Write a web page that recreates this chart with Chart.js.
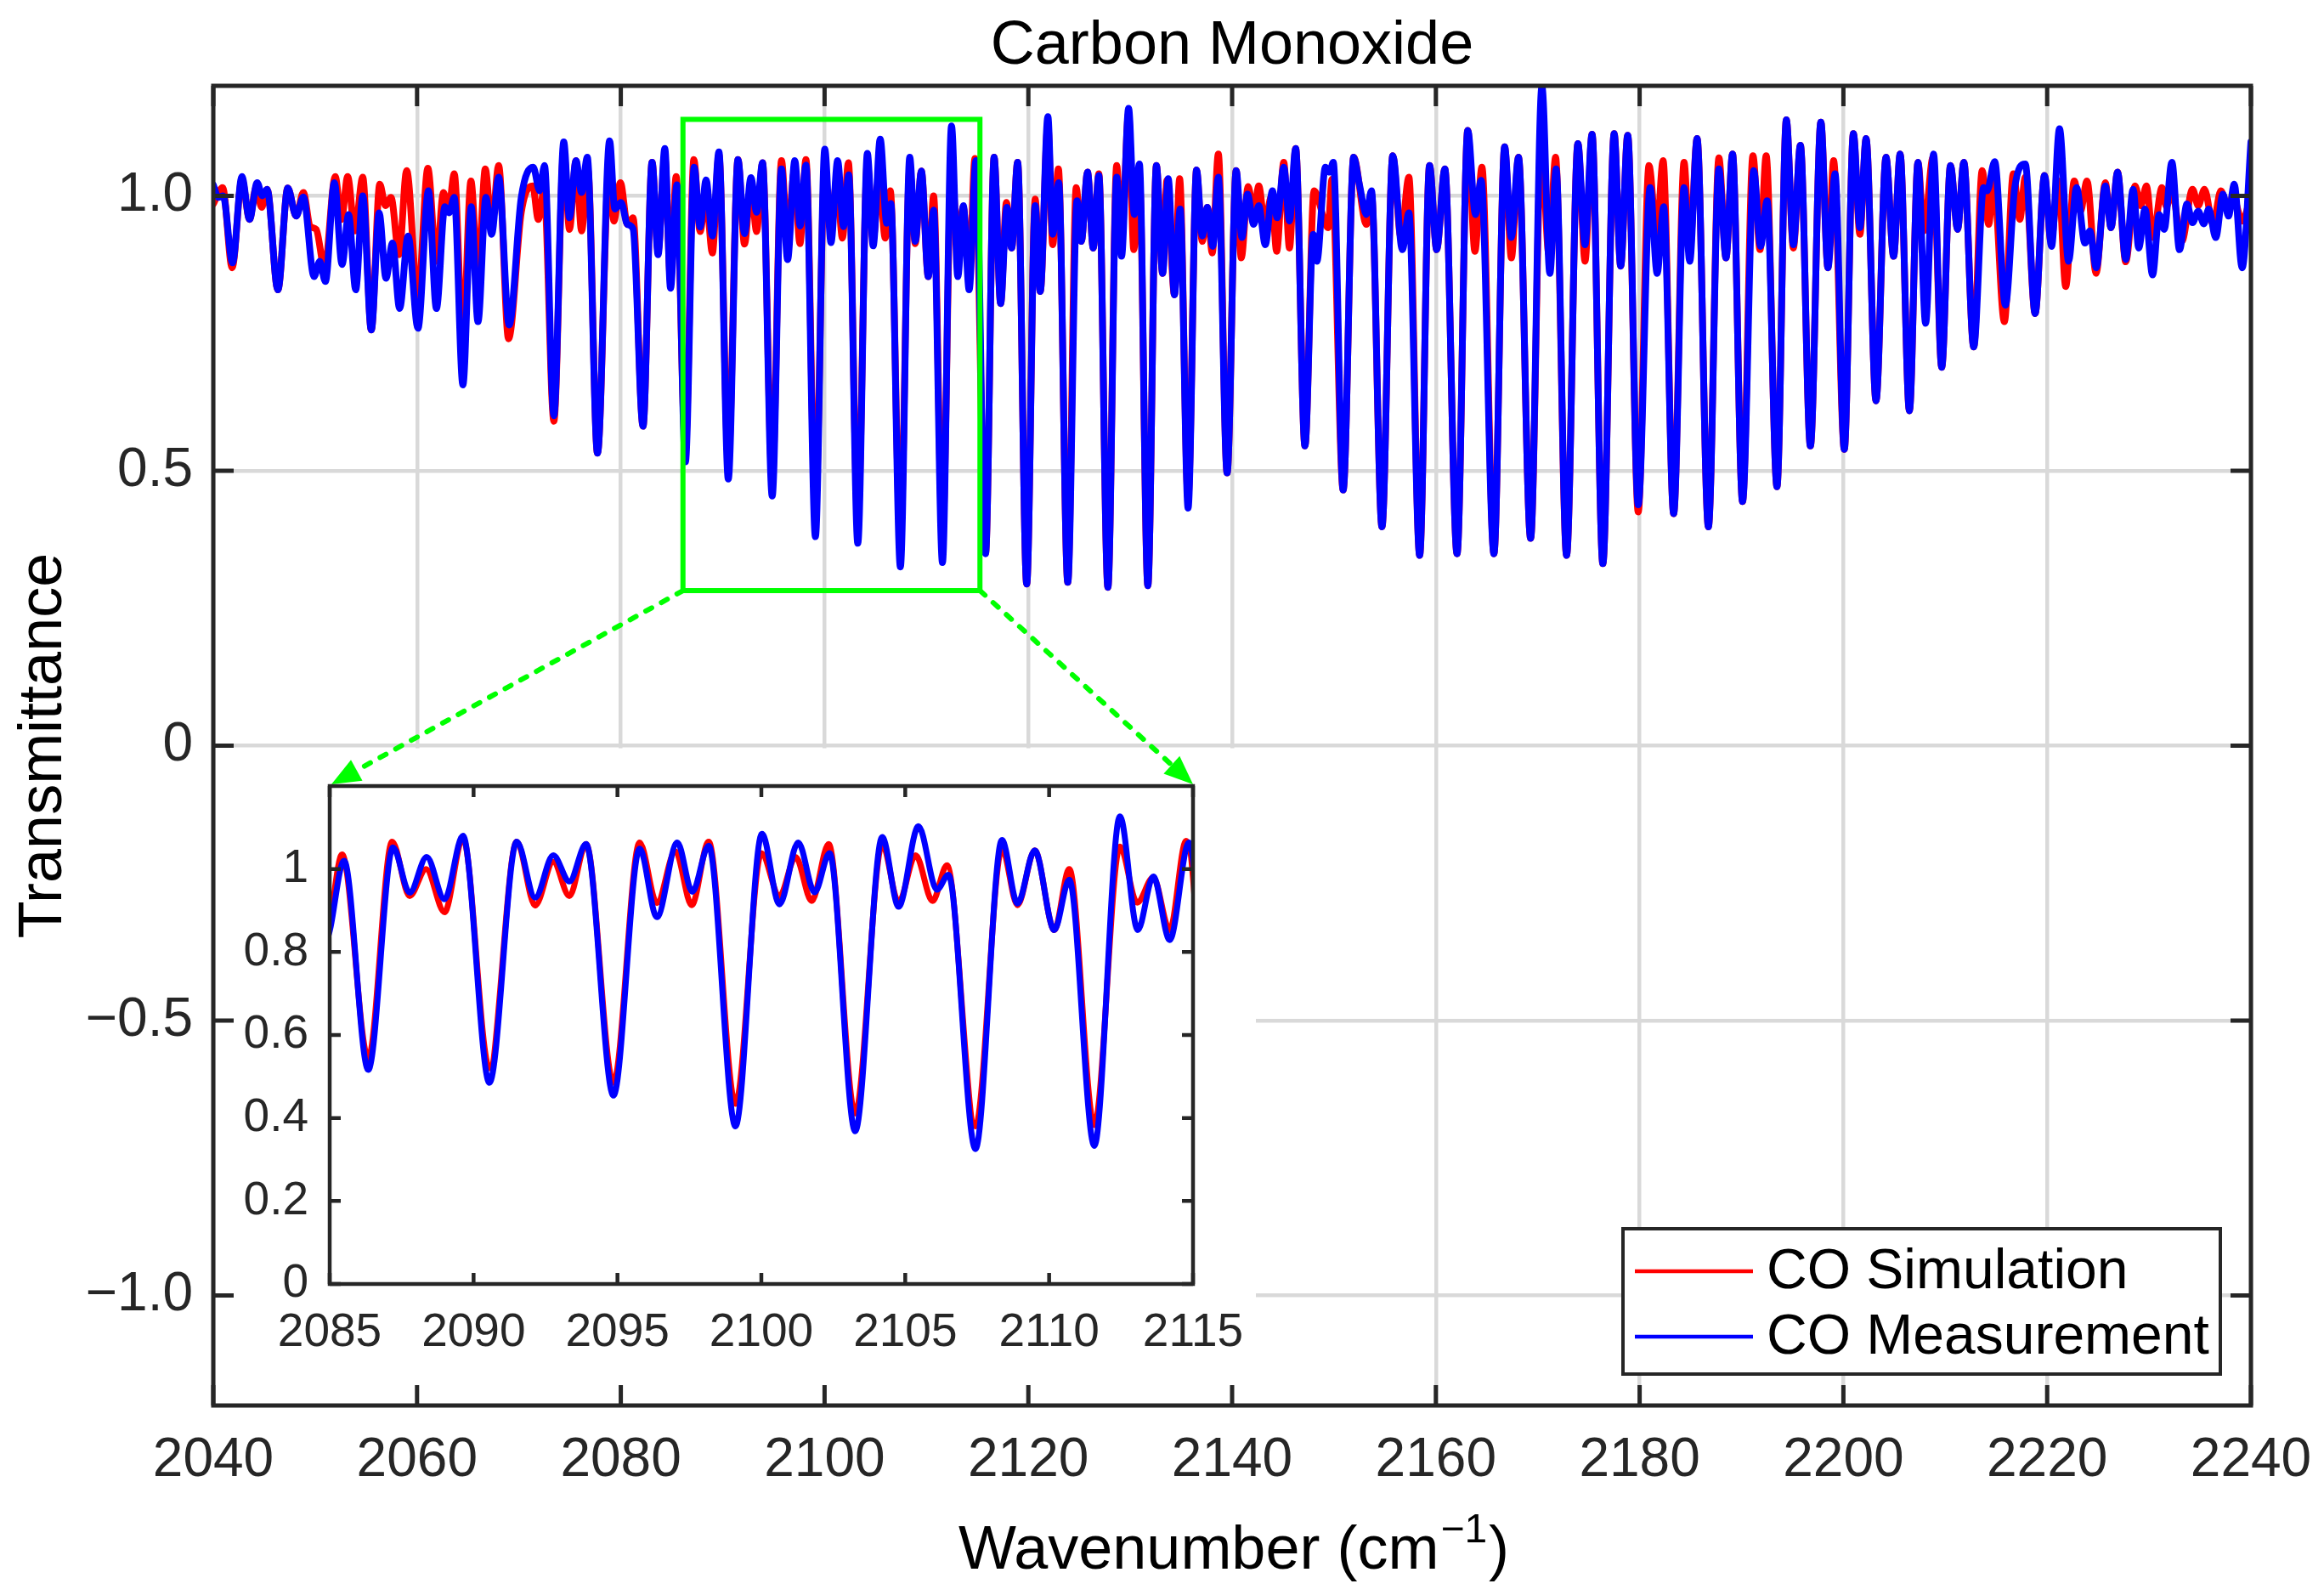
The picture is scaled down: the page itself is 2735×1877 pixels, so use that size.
<!DOCTYPE html>
<html>
<head>
<meta charset="utf-8">
<title>Carbon Monoxide</title>
<script src="https://cdn.jsdelivr.net/npm/chart.js@4.4.1/dist/chart.umd.min.js"></script>
<style>
    html, body { margin: 0; padding: 0; background: #ffffff; }
    #wrap { position: relative; width: 2735px; height: 1877px; background: #ffffff; }
    #mainChart { position: absolute; left: 0; top: 0; width: 2735px; height: 1877px; }
    #insetChart { position: absolute; left: 256px; top: 880px; width: 1222px; height: 770px; }
</style>
</head>
<body>
<div id="wrap">
    <canvas id="mainChart" width="2735" height="1877"></canvas>
    <canvas id="insetChart" width="1222" height="770"></canvas>
</div>
<script>
// ================= DATA =================
let seriesNames = ["CO Simulation", "CO Measurement"];

let xTicks = [2040, 2060, 2080, 2100, 2120, 2140, 2160, 2180, 2200, 2220, 2240];
let yTicks = [-1, -0.5, 0, 0.5, 1];
let insetXTicks = [2085, 2090, 2095, 2100, 2105, 2110, 2115];
let insetYTicks = [0, 0.2, 0.4, 0.6, 0.8, 1];

// zoomed window marked on the main plot (wavenumber, transmittance)
let zoomBoxX = [2086.1, 2115.25];
let zoomBoxY = [0.282, 1.139];

// CO Measurement (blue)
let measWavenumber = [
    2040.0, 2040.5, 2040.97, 2041.89, 2042.81, 2043.56, 2044.31, 2044.81, 2045.28, 2046.34,
    2047.31, 2048.14, 2048.84, 2049.89, 2050.45, 2051.0, 2051.89, 2052.64, 2053.28, 2053.98,
    2054.67, 2055.51, 2056.28, 2056.95, 2057.59, 2058.29, 2059.12, 2060.09, 2061.12, 2061.9,
    2062.73, 2063.15, 2063.65, 2064.5, 2065.32, 2065.98, 2066.76, 2067.32, 2068.01, 2069.04,
    2070.23, 2071.4, 2072.04, 2072.51, 2073.43, 2074.4, 2074.96, 2075.6, 2076.15, 2076.71,
    2077.71, 2078.9, 2079.41, 2080.02, 2080.65, 2081.2, 2082.18, 2083.07, 2083.66, 2084.32,
    2084.88, 2085.5, 2086.34, 2087.2, 2087.78, 2088.37, 2088.99, 2089.63, 2090.55, 2091.5,
    2092.14, 2092.77, 2093.33, 2093.91, 2094.86, 2095.77, 2096.37, 2097.08, 2097.6, 2098.17,
    2099.1, 2100.02, 2100.63, 2101.28, 2101.85, 2102.37, 2103.26, 2104.2, 2104.77, 2105.46,
    2106.1, 2106.5, 2107.44, 2108.36, 2108.9, 2109.5, 2110.18, 2110.7, 2111.57, 2112.46,
    2113.08, 2113.62, 2114.19, 2114.86, 2115.8, 2116.64, 2117.28, 2117.89, 2118.36, 2118.95,
    2119.84, 2120.67, 2121.17, 2121.92, 2122.39, 2122.98, 2123.87, 2124.78, 2125.2, 2125.81,
    2126.37, 2126.92, 2127.81, 2128.67, 2129.15, 2129.84, 2130.4, 2130.9, 2131.73, 2132.57,
    2133.18, 2133.73, 2134.34, 2134.9, 2135.68, 2136.51, 2137.07, 2137.57, 2138.1, 2138.65,
    2139.51, 2140.4, 2140.96, 2141.51, 2142.12, 2142.62, 2143.26, 2143.96, 2144.43, 2145.07,
    2145.63, 2146.24, 2147.15, 2147.96, 2148.32, 2149.16, 2149.57, 2149.93, 2150.9, 2151.93,
    2152.5, 2153.18, 2153.68, 2154.71, 2155.77, 2156.71, 2157.35, 2158.41, 2159.38, 2160.08,
    2160.88, 2162.08, 2163.13, 2163.88, 2164.44, 2165.7, 2166.75, 2167.41, 2168.11, 2169.3,
    2170.41, 2171.19, 2171.8, 2172.83, 2173.94, 2174.64, 2175.33, 2176.39, 2177.5, 2178.14,
    2178.83, 2179.86, 2181.03, 2181.72, 2182.36, 2183.34, 2184.36, 2184.92, 2185.64, 2186.75,
    2187.78, 2188.48, 2189.12, 2190.1, 2191.2, 2191.87, 2192.51, 2193.48, 2194.4, 2195.09,
    2195.78, 2196.76, 2197.79, 2198.48, 2199.18, 2200.09, 2200.98, 2201.62, 2202.23, 2203.2,
    2204.18, 2204.93, 2205.57, 2206.48, 2207.32, 2208.07, 2208.85, 2209.65, 2210.51, 2211.21,
    2211.82, 2212.79, 2213.76, 2214.1, 2214.85, 2215.9, 2216.82, 2217.85, 2218.82, 2219.74,
    2220.43, 2221.21, 2222.1, 2222.88, 2223.71, 2224.19, 2224.82, 2225.71, 2226.27, 2226.91,
    2227.71, 2228.44, 2228.99, 2229.6, 2230.35, 2230.99, 2231.49, 2232.24, 2232.99, 2233.72,
    2234.27, 2234.83, 2235.38, 2235.86, 2236.55, 2237.25, 2237.8, 2238.36, 2239.14, 2240.0
];
let measTransmittance = [
    1.02, 0.997, 1.0, 0.878, 1.035, 0.957, 1.024, 1.0, 1.012, 0.829,
    1.014, 0.963, 0.998, 0.853, 0.881, 0.844, 1.024, 0.875, 0.966, 0.829,
    1.0, 0.756, 0.969, 0.85, 0.914, 0.795, 0.927, 0.759, 1.009, 0.795,
    0.98, 0.969, 0.997, 0.656, 0.98, 0.771, 0.997, 0.93, 1.034, 0.765,
    0.997, 1.052, 1.009, 1.055, 0.6, 1.098, 0.96, 1.064, 1.006, 1.07,
    0.532, 1.1, 0.976, 0.988, 0.948, 0.94, 0.581, 1.061, 0.893, 1.086,
    0.832, 1.02, 0.516, 1.052, 0.943, 1.029, 0.927, 1.08, 0.485, 1.066,
    0.931, 1.033, 0.97, 1.06, 0.454, 1.049, 0.884, 1.064, 0.945, 1.056,
    0.38, 1.085, 0.915, 1.064, 0.944, 1.038, 0.368, 1.077, 0.909, 1.103,
    0.95, 0.986, 0.325, 1.07, 0.917, 1.045, 0.853, 0.974, 0.333, 1.127,
    0.853, 0.982, 0.829, 1.064, 0.349, 1.07, 0.804, 0.979, 0.905, 1.061,
    0.294, 0.982, 0.826, 1.144, 0.93, 1.024, 0.297, 0.991, 0.917, 1.043,
    0.905, 1.037, 0.288, 1.034, 0.89, 1.159, 0.966, 1.058, 0.291, 1.055,
    0.859, 1.031, 0.82, 0.976, 0.432, 1.047, 0.927, 0.979, 0.908, 1.034,
    0.496, 1.046, 0.924, 1.003, 0.948, 0.982, 0.911, 1.009, 0.96, 1.052,
    0.954, 1.086, 0.545, 0.93, 0.881, 1.052, 1.043, 1.061, 0.465, 1.07,
    1.02, 0.966, 1.009, 0.398, 1.073, 0.902, 0.969, 0.346, 1.055, 0.902,
    1.049, 0.349, 1.119, 0.966, 1.028, 0.349, 1.089, 0.924, 1.07, 0.377,
    1.199, 0.859, 1.049, 0.346, 1.095, 0.911, 1.112, 0.331, 1.113, 0.872,
    1.11, 0.438, 1.015, 0.859, 0.98, 0.422, 1.015, 0.881, 1.104, 0.398,
    1.049, 0.887, 1.076, 0.444, 1.046, 0.908, 0.991, 0.471, 1.138, 0.911,
    1.092, 0.545, 1.134, 0.869, 1.04, 0.539, 1.113, 0.942, 1.104, 0.627,
    1.07, 0.89, 1.076, 0.609, 1.061, 0.768, 1.076, 0.688, 1.055, 0.939,
    1.061, 0.725, 1.015, 1.009, 1.062, 0.801, 1.015, 1.058, 0.786, 1.037,
    0.908, 1.122, 0.881, 1.015, 0.914, 0.936, 0.869, 1.018, 0.942, 1.043,
    0.884, 1.012, 0.905, 0.976, 0.856, 0.966, 0.939, 1.061, 0.902, 0.985,
    0.951, 0.972, 0.949, 0.976, 0.924, 1.003, 0.963, 1.021, 0.869, 1.098
];

// CO Simulation (red)
let simWavenumber = [
    2040.0, 2040.92, 2041.85, 2042.81, 2043.56, 2044.2, 2044.75, 2045.28, 2046.34, 2047.31,
    2048.14, 2048.84, 2049.5, 2050.1, 2050.92, 2051.97, 2052.58, 2053.19, 2053.9, 2054.67,
    2055.51, 2056.34, 2056.9, 2057.45, 2058.23, 2058.98, 2060.09, 2061.06, 2061.9, 2062.59,
    2063.1, 2063.65, 2064.5, 2065.29, 2065.98, 2066.7, 2067.32, 2068.01, 2068.98, 2070.23,
    2071.35, 2071.9, 2072.46, 2073.43, 2074.4, 2074.96, 2075.6, 2076.15, 2076.77, 2077.71,
    2078.85, 2079.32, 2079.96, 2080.65, 2081.2, 2082.18, 2083.07, 2083.66, 2084.32, 2084.88,
    2085.43, 2086.34, 2087.17, 2087.78, 2088.35, 2088.99, 2089.63, 2090.55, 2091.5, 2092.14,
    2092.77, 2093.33, 2093.91, 2094.86, 2095.77, 2096.37, 2097.01, 2097.58, 2098.17, 2099.1,
    2100.0, 2100.63, 2101.19, 2101.75, 2102.34, 2103.26, 2104.2, 2104.77, 2105.36, 2105.95,
    2106.45, 2107.44, 2108.36, 2108.9, 2109.5, 2110.18, 2110.7, 2111.57, 2112.46, 2113.06,
    2113.62, 2114.19, 2114.76, 2115.8, 2116.64, 2117.28, 2117.85, 2118.36, 2118.95, 2119.84,
    2120.67, 2121.17, 2121.92, 2122.39, 2122.95, 2123.87, 2124.7, 2125.2, 2125.81, 2126.37,
    2126.92, 2127.81, 2128.67, 2129.15, 2129.84, 2130.35, 2130.9, 2131.73, 2132.57, 2133.18,
    2133.6, 2134.34, 2134.85, 2135.68, 2136.51, 2137.07, 2137.57, 2138.05, 2138.65, 2139.51,
    2140.4, 2140.9, 2141.57, 2142.12, 2142.62, 2143.2, 2143.88, 2144.37, 2145.07, 2145.63,
    2146.24, 2147.15, 2148.04, 2149.43, 2149.8, 2150.9, 2151.93, 2153.18, 2153.68, 2154.71,
    2155.77, 2156.57, 2157.35, 2158.41, 2159.38, 2160.08, 2160.88, 2162.08, 2163.13, 2163.83,
    2164.52, 2165.7, 2166.75, 2167.41, 2168.11, 2169.3, 2170.35, 2171.1, 2171.75, 2172.83,
    2173.94, 2174.64, 2175.33, 2176.39, 2177.5, 2178.14, 2178.83, 2179.86, 2180.92, 2181.67,
    2182.3, 2183.34, 2184.36, 2184.92, 2185.64, 2186.75, 2187.78, 2188.48, 2189.12, 2190.1,
    2191.12, 2191.82, 2192.42, 2193.48, 2194.4, 2195.09, 2195.78, 2196.76, 2197.79, 2198.48,
    2199.04, 2200.09, 2200.98, 2201.62, 2202.23, 2203.2, 2204.18, 2204.93, 2205.57, 2206.48,
    2207.32, 2207.9, 2208.8, 2209.65, 2210.51, 2211.21, 2211.82, 2212.79, 2213.62, 2214.26,
    2214.74, 2215.8, 2216.68, 2217.32, 2217.85, 2218.82, 2219.74, 2220.37, 2221.13, 2221.82,
    2222.66, 2223.27, 2223.91, 2224.8, 2225.71, 2226.27, 2226.91, 2227.71, 2228.63, 2229.19,
    2229.74, 2230.38, 2231.27, 2231.7, 2232.24, 2233.21, 2234.27, 2234.83, 2235.44, 2236.28,
    2237.05, 2237.8, 2238.22, 2239.14, 2240.0
];
let simTransmittance = [
    0.985, 1.015, 0.869, 1.03, 0.957, 1.015, 0.979, 1.012, 0.829, 1.014,
    0.963, 1.006, 0.945, 0.939, 0.869, 1.035, 0.957, 1.035, 0.936, 1.034,
    0.756, 1.021, 0.982, 0.997, 0.893, 1.046, 0.814, 1.05, 0.881, 1.006,
    0.975, 1.04, 0.74, 1.027, 0.856, 1.049, 0.942, 1.055, 0.74, 0.97,
    1.018, 0.957, 1.009, 0.59, 1.083, 0.939, 1.064, 0.936, 1.046, 0.532,
    1.049, 0.954, 1.024, 0.948, 0.96, 0.581, 1.061, 0.9, 1.07, 0.845,
    1.035, 0.544, 1.066, 0.935, 1.0, 0.896, 1.075, 0.52, 1.066, 0.912,
    1.017, 0.935, 1.06, 0.485, 1.064, 0.918, 1.043, 0.913, 1.066, 0.434,
    1.038, 0.935, 1.029, 0.923, 1.06, 0.411, 1.06, 0.92, 1.033, 0.923,
    1.009, 0.38, 1.049, 0.913, 1.045, 0.853, 1.0, 0.383, 1.054, 0.919,
    0.98, 0.853, 1.068, 0.35, 1.07, 0.804, 0.988, 0.905, 1.061, 0.294,
    0.994, 0.826, 1.13, 0.911, 1.049, 0.297, 1.015, 0.917, 1.043, 0.905,
    1.04, 0.288, 1.055, 0.917, 1.15, 0.902, 1.034, 0.291, 1.055, 0.859,
    1.028, 0.82, 1.031, 0.45, 1.047, 0.917, 0.979, 0.896, 1.076, 0.496,
    1.046, 0.887, 1.017, 0.97, 1.018, 0.95, 1.0, 0.899, 1.061, 0.905,
    1.086, 0.545, 1.009, 0.942, 1.03, 0.465, 1.07, 0.948, 1.003, 0.398,
    1.073, 0.924, 1.034, 0.346, 1.055, 0.902, 1.049, 0.349, 1.119, 0.899,
    1.052, 0.349, 1.089, 0.887, 1.07, 0.377, 1.09, 0.893, 1.07, 0.346,
    1.095, 0.881, 1.112, 0.331, 1.113, 0.872, 1.11, 0.425, 1.055, 0.93,
    1.064, 0.422, 1.061, 0.9, 1.104, 0.398, 1.069, 0.887, 1.076, 0.444,
    1.073, 0.902, 1.073, 0.471, 1.138, 0.905, 1.092, 0.545, 1.134, 0.869,
    1.064, 0.539, 1.113, 0.93, 1.104, 0.627, 1.07, 0.89, 1.076, 0.609,
    1.061, 0.936, 1.07, 0.688, 1.055, 0.939, 1.061, 0.725, 1.046, 0.948,
    1.027, 0.771, 1.04, 0.957, 1.034, 0.786, 1.037, 0.917, 1.027, 0.835,
    1.027, 0.972, 1.027, 0.859, 1.024, 0.942, 1.043, 0.88, 1.018, 0.982,
    1.018, 0.924, 1.015, 0.98, 1.009, 0.917, 1.012, 0.982, 1.012, 0.948,
    1.009, 0.975, 1.0, 0.954, 1.0
];

// ================= LAYOUT =================
let FONT = '"Liberation Sans", Arial, Helvetica, sans-serif';
let AXIS_COLOR = "#262626";
let GRID_COLOR = "#d9d9d9";

let INSET_LEFT = 256;
let INSET_TOP = 880;
let INSET_W = 1222;
let INSET_H = 770;
let INSET_PAD_TOP = 45;
let INSET_PAD_RIGHT = 74;
let INSET_AXIS_W = 132;
let INSET_AXIS_H = 139;

Chart.defaults.font.family = FONT;

// ================= HELPERS =================
function makeDataset(label, xs, ys, color, width, order){

    return {
        label: label,
        data: xs.map((x, i) => ({ x: x, y: ys[i] })),
        borderColor: color,
        backgroundColor: color,
        borderWidth: width,
        pointRadius: 0,
        fill: false,
        cubicInterpolationMode: "monotone",
        borderJoinStyle: "round",
        borderCapStyle: "round",
        order: order
    };

}

function tickList(values){

    return function(scale){
        scale.ticks = values.map(v => ({ value: v }));
    };

}

// fixed axis box; label overhang is handled by the layout padding instead
function fixBox(size){

    return function(scale){
        if(scale.isHorizontal()){
            scale.height = size;
        } else {
            scale.width = size;
        }
        scale.paddingLeft = 0;
        scale.paddingRight = 0;
        scale.paddingTop = 0;
        scale.paddingBottom = 0;
    };

}

function mainYLabel(v){

    if(v === 0) return "0";

    return (v < 0 ? "\u2212" : "") + Math.abs(v).toFixed(1);

}

function drawFrame(chart, tickLen, lineWidth){

    let ctx = chart.ctx;
    let a = chart.chartArea;
    let xs = chart.scales.x;
    let ys = chart.scales.y;

    ctx.save();
    ctx.strokeStyle = AXIS_COLOR;
    ctx.lineWidth = lineWidth;
    ctx.lineCap = "butt";

    ctx.beginPath();

    xs.ticks.forEach(t => {
        let px = xs.getPixelForValue(t.value);
        ctx.moveTo(px, a.bottom);
        ctx.lineTo(px, a.bottom - tickLen);
        ctx.moveTo(px, a.top);
        ctx.lineTo(px, a.top + tickLen);
    });

    ys.ticks.forEach(t => {
        let py = ys.getPixelForValue(t.value);
        ctx.moveTo(a.left, py);
        ctx.lineTo(a.left + tickLen, py);
        ctx.moveTo(a.right, py);
        ctx.lineTo(a.right - tickLen, py);
    });

    ctx.stroke();

    ctx.lineJoin = "miter";
    ctx.strokeRect(a.left, a.top, a.right - a.left, a.bottom - a.top);

    ctx.restore();

}

function drawArrow(ctx, x1, y1, x2, y2){

    let ang = Math.atan2(y2 - y1, x2 - x1);
    let headLen = 34;
    let headHalf = 14;
    let bx = x2 - headLen * Math.cos(ang);
    let by = y2 - headLen * Math.sin(ang);

    ctx.setLineDash([8, 13]);
    ctx.lineCap = "round";
    ctx.beginPath();
    ctx.moveTo(x1, y1);
    ctx.lineTo(bx, by);
    ctx.stroke();
    ctx.setLineDash([]);

    ctx.beginPath();
    ctx.moveTo(x2, y2);
    ctx.lineTo(bx + headHalf * Math.sin(ang), by - headHalf * Math.cos(ang));
    ctx.lineTo(bx - headHalf * Math.sin(ang), by + headHalf * Math.cos(ang));
    ctx.closePath();
    ctx.fill();

}

/* ================= MAIN CHART EXTRAS ================= */
let mainExtras = {

    id: "mainExtras",

    afterDatasetsDraw(chart){

        let ctx = chart.ctx;
        let a = chart.chartArea;
        let xs = chart.scales.x;
        let ys = chart.scales.y;

        ctx.save();

        // white panel behind the inset
        let panelTop = ys.getPixelForValue(0) + 3;
        ctx.fillStyle = "#ffffff";
        ctx.fillRect(a.left + 3, panelTop, INSET_LEFT + INSET_W - a.left - 3, a.bottom - 3 - panelTop);

        // green box around the zoomed window
        let bx1 = xs.getPixelForValue(zoomBoxX[0]);
        let bx2 = xs.getPixelForValue(zoomBoxX[1]);
        let by1 = ys.getPixelForValue(zoomBoxY[1]);
        let by2 = ys.getPixelForValue(zoomBoxY[0]);

        ctx.strokeStyle = "#00ff00";
        ctx.fillStyle = "#00ff00";
        ctx.lineWidth = 6;
        ctx.lineJoin = "miter";
        ctx.strokeRect(bx1, by1, bx2 - bx1, by2 - by1);

        // dotted arrows to the inset corners
        let insetAreaLeft = INSET_LEFT + INSET_AXIS_W;
        let insetAreaRight = INSET_LEFT + INSET_W - INSET_PAD_RIGHT;
        let insetAreaTop = INSET_TOP + INSET_PAD_TOP;

        drawArrow(ctx, bx1, by2, insetAreaLeft + 2, insetAreaTop - 2);
        drawArrow(ctx, bx2, by2, insetAreaRight, insetAreaTop - 2);

        ctx.restore();

    },

    afterDraw(chart){

        let ctx = chart.ctx;
        let a = chart.chartArea;

        drawFrame(chart, 24, 5);

        /* ---------- legend ---------- */
        let lw = 703;
        let lh = 171;
        let lx = a.right - 36 - lw;
        let ly = a.bottom - 37 - lh;

        ctx.save();
        ctx.fillStyle = "#ffffff";
        ctx.fillRect(lx, ly, lw, lh);
        ctx.strokeStyle = AXIS_COLOR;
        ctx.lineWidth = 4;
        ctx.strokeRect(lx, ly, lw, lh);

        ctx.font = "66px " + FONT;
        ctx.textBaseline = "middle";
        ctx.textAlign = "left";

        chart.data.datasets.forEach((ds, i) => {
            let rowY = ly + 50 + i * 77;
            ctx.strokeStyle = ds.borderColor;
            ctx.lineWidth = 4.5;
            ctx.beginPath();
            ctx.moveTo(lx + 14, rowY);
            ctx.lineTo(lx + 153, rowY);
            ctx.stroke();
            ctx.fillStyle = "#000000";
            ctx.fillText(ds.label, lx + 169, rowY + 2);
        });

        /* ---------- title ---------- */
        let midX = (a.left + a.right) / 2;

        ctx.fillStyle = "#000000";
        ctx.textBaseline = "alphabetic";
        ctx.textAlign = "center";
        ctx.font = "72px " + FONT;
        ctx.fillText("Carbon Monoxide", midX, 75);

        /* ---------- x axis title with superscript ---------- */
        let mainPart = "Wavenumber (cm";
        let supPart = "\u22121";
        let endPart = ")";
        let bigFont = "72px " + FONT;
        let supFont = "48px " + FONT;

        ctx.font = bigFont;
        let w1 = ctx.measureText(mainPart).width;
        let w3 = ctx.measureText(endPart).width;
        ctx.font = supFont;
        let w2 = ctx.measureText(supPart).width;

        let startX = midX - (w1 + w2 + w3) / 2;
        let baseY = 1846;

        ctx.textAlign = "left";
        ctx.font = bigFont;
        ctx.fillText(mainPart, startX, baseY);
        ctx.font = supFont;
        ctx.fillText(supPart, startX + w1 + 2, baseY - 31);
        ctx.font = bigFont;
        ctx.fillText(endPart, startX + w1 + w2 + 4, baseY);

        /* ---------- y axis title ---------- */
        ctx.save();
        ctx.translate(72, (a.top + a.bottom) / 2);
        ctx.rotate(-Math.PI / 2);
        ctx.textAlign = "center";
        ctx.font = "72px " + FONT;
        ctx.fillText("Transmittance", 0, 0);
        ctx.restore();

        ctx.restore();

    }

};

/* ================= INSET EXTRAS ================= */
let insetExtras = {

    id: "insetExtras",

    afterDraw(chart){

        drawFrame(chart, 13, 4.5);

    }

};

/* ================= MAIN CHART ================= */
let mainChart = new Chart(document.getElementById("mainChart"), {

    type: "line",

    data: {
        datasets: [
            makeDataset(seriesNames[0], simWavenumber, simTransmittance, "#ff0000", 8, 2),
            makeDataset(seriesNames[1], measWavenumber, measTransmittance, "#0000ff", 8, 1)
        ]
    },

    options: {

        responsive: false,
        devicePixelRatio: 1,
        animation: false,
        events: [],

        layout: {
            autoPadding: false,
            padding: { top: 101, right: 86, left: 0, bottom: 0 }
        },

        plugins: {
            legend: { display: false },
            title: { display: false },
            tooltip: { enabled: false }
        },

        scales: {

            x: {
                type: "linear",
                min: 2040,
                max: 2240,
                afterBuildTicks: tickList(xTicks),
                afterFit: fixBox(223),
                grid: { color: GRID_COLOR, lineWidth: 4.5, drawTicks: false },
                border: { display: false },
                ticks: {
                    autoSkip: false,
                    maxRotation: 0,
                    padding: 27,
                    color: AXIS_COLOR,
                    font: { size: 64 },
                    callback: v => String(v)
                }
            },

            y: {
                type: "linear",
                min: -1.2,
                max: 1.2,
                afterBuildTicks: tickList(yTicks),
                afterFit: fixBox(251),
                grid: { color: GRID_COLOR, lineWidth: 4.5, drawTicks: false },
                border: { display: false },
                ticks: {
                    autoSkip: false,
                    padding: 24,
                    color: AXIS_COLOR,
                    font: { size: 64 },
                    callback: v => mainYLabel(v)
                }
            }

        }

    },

    plugins: [mainExtras]

});

/* ================= INSET CHART ================= */
let insetChart = new Chart(document.getElementById("insetChart"), {

    type: "line",

    data: {
        datasets: [
            makeDataset(seriesNames[0], simWavenumber, simTransmittance, "#ff0000", 7, 2),
            makeDataset(seriesNames[1], measWavenumber, measTransmittance, "#0000ff", 7, 1)
        ]
    },

    options: {

        responsive: false,
        devicePixelRatio: 1,
        animation: false,
        events: [],

        layout: {
            autoPadding: false,
            padding: { top: INSET_PAD_TOP, right: INSET_PAD_RIGHT, left: 0, bottom: 0 }
        },

        plugins: {
            legend: { display: false },
            title: { display: false },
            tooltip: { enabled: false }
        },

        scales: {

            x: {
                type: "linear",
                min: 2085,
                max: 2115,
                afterBuildTicks: tickList(insetXTicks),
                afterFit: fixBox(INSET_AXIS_H),
                grid: { display: false, drawTicks: false },
                border: { display: false },
                ticks: {
                    autoSkip: false,
                    maxRotation: 0,
                    padding: 25,
                    color: AXIS_COLOR,
                    font: { size: 55 },
                    callback: v => String(v)
                }
            },

            y: {
                type: "linear",
                min: 0,
                max: 1.2,
                afterBuildTicks: tickList(insetYTicks),
                afterFit: fixBox(INSET_AXIS_W),
                grid: { display: false, drawTicks: false },
                border: { display: false },
                ticks: {
                    autoSkip: false,
                    padding: 25,
                    color: AXIS_COLOR,
                    font: { size: 55 },
                    callback: v => String(v)
                }
            }

        }

    },

    plugins: [insetExtras]

});
</script>
</body>
</html>
